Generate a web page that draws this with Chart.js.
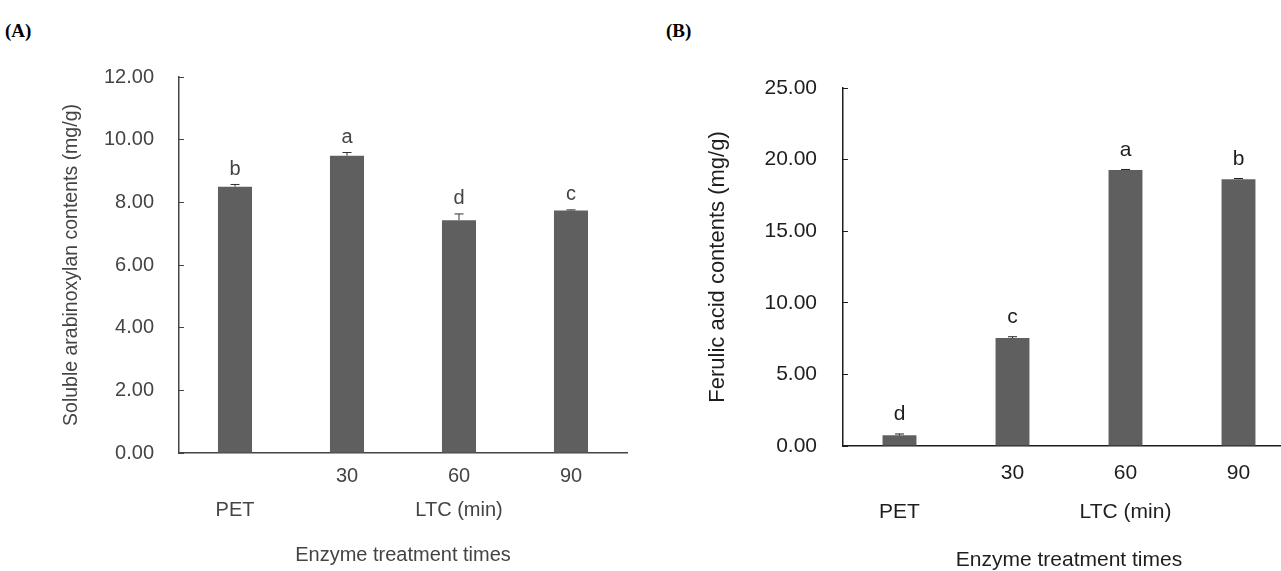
<!DOCTYPE html>
<html>
<head>
<meta charset="utf-8">
<script src="https://cdn.jsdelivr.net/npm/chart.js@4.4.1/dist/chart.umd.min.js"></script>
<style>
  html, body { margin: 0; padding: 0; background: #fff; overflow: hidden; }
  body { width: 1281px; height: 571px; position: relative; }
  canvas { position: absolute; top: 0; }
  #chartA { left: 0; }
  #chartB { left: 640px; }
  .tag { position: absolute; font: bold 19px 'Liberation Serif', 'Times New Roman', serif; line-height: 1; color: #000; }
</style>
</head>
<body>
<div class="tag" style="left:5px; top:21px;">(A)</div>
<div class="tag" style="left:666px; top:21px;">(B)</div>
<canvas id="chartA" width="640" height="571"></canvas>
<canvas id="chartB" width="660" height="571"></canvas>
<script>
'use strict';

// data
let xLabels = [['', 'PET'], ['30', ''], ['60', 'LTC (min)'], ['90', '']];

let arabinoxylan = [8.50, 9.49, 7.43, 7.74];
let arabinoxylanErr = [0.07, 0.10, 0.20, 0.02];
let arabinoxylanLetters = ['b', 'a', 'd', 'c'];

let ferulic = [0.75, 7.54, 19.28, 18.63];
let ferulicErr = [0.09, 0.09, 0.03, 0.05];
let ferulicLetters = ['d', 'c', 'a', 'b'];

let barColor = '#5f5f5f';

Chart.defaults.font.family = "'Liberation Sans', Arial, sans-serif";

// error bars + significance letters above each bar
function marksPlugin(values, errors, letters, style) {
  return {
    id: 'marks',
    afterDatasetsDraw(chart) {
      let ctx = chart.ctx;
      let yScale = chart.scales.y;
      let bars = chart.getDatasetMeta(0).data;
      ctx.save();
      ctx.strokeStyle = style.errColor;
      ctx.lineWidth = 1;
      ctx.fillStyle = style.textColor;
      ctx.font = style.fontSize + "px 'Liberation Sans', Arial, sans-serif";
      ctx.textAlign = 'center';
      ctx.textBaseline = 'middle';
      for (let i = 0; i < bars.length; i++) {
        let x = bars[i].x;
        let top = yScale.getPixelForValue(values[i] + errors[i]);
        ctx.beginPath();
        ctx.moveTo(x, bars[i].y);
        ctx.lineTo(x, top);
        ctx.moveTo(x - 4.5, top);
        ctx.lineTo(x + 4.5, top);
        ctx.stroke();
        ctx.fillText(letters[i], x, top - style.gap);
      }
      ctx.restore();
    }
  };
}

let colorA = '#444444';
let colorB = '#1e1e1e';

new Chart(document.getElementById('chartA'), {
  type: 'bar',
  data: {
    labels: xLabels,
    datasets: [{
      data: arabinoxylan,
      backgroundColor: barColor,
      borderWidth: 0,
      barPercentage: 0.304,
      categoryPercentage: 1
    }]
  },
  options: {
    responsive: false,
    animation: false,
    layout: { padding: { top: 77, right: 13, left: 0, bottom: 0 } },
    plugins: { legend: { display: false }, tooltip: { enabled: false } },
    scales: {
      x: {
        grid: { display: true, drawOnChartArea: false, drawTicks: false },
        border: { color: colorA, width: 1.5 },
        ticks: { color: colorA, font: { size: 20, lineHeight: 1.7 }, padding: 6, autoSkip: false, maxRotation: 0 },
        title: {
          display: true,
          text: 'Enzyme treatment times',
          color: colorA,
          font: { size: 20, lineHeight: 1.2 },
          padding: { top: 0, bottom: 4 }
        },
        afterFit: function (s) { s.height = 118; }
      },
      y: {
        min: 0,
        max: 12,
        ticks: {
          stepSize: 2,
          color: colorA,
          font: { size: 20 },
          padding: 30,
          callback: function (v) { return v.toFixed(2); }
        },
        grid: { drawOnChartArea: false, tickLength: -5, color: colorA },
        border: { color: colorA, width: 1.5 },
        title: {
          display: true,
          text: 'Soluble arabinoxylan contents (mg/g)',
          color: colorA,
          font: { size: 19.5, lineHeight: 1.2 },
          padding: { top: 60, bottom: 0 }
        },
        afterFit: function (s) { s.width = 179; }
      }
    }
  },
  plugins: [marksPlugin(arabinoxylan, arabinoxylanErr, arabinoxylanLetters,
    { errColor: '#333', textColor: colorA, fontSize: 20, gap: 15 })]
});

new Chart(document.getElementById('chartB'), {
  type: 'bar',
  data: {
    labels: xLabels,
    datasets: [{
      data: ferulic,
      backgroundColor: barColor,
      borderWidth: 0,
      barPercentage: 0.30,
      categoryPercentage: 1
    }]
  },
  options: {
    responsive: false,
    animation: false,
    layout: { padding: { top: 88, right: 5, left: 0, bottom: 0 } },
    plugins: { legend: { display: false }, tooltip: { enabled: false } },
    scales: {
      x: {
        grid: { display: true, drawOnChartArea: false, drawTicks: false },
        border: { color: colorB, width: 1.5 },
        ticks: { color: colorB, font: { size: 21, lineHeight: 1.88 }, padding: 7, autoSkip: false, maxRotation: 0 },
        title: {
          display: true,
          text: 'Enzyme treatment times',
          color: colorB,
          font: { size: 21, lineHeight: 1.0 },
          padding: { top: 0, bottom: 0 }
        },
        afterFit: function (s) { s.height = 125; }
      },
      y: {
        min: 0,
        max: 25,
        ticks: {
          stepSize: 5,
          color: colorB,
          font: { size: 21 },
          padding: 31,
          callback: function (v) { return v.toFixed(2); }
        },
        grid: { drawOnChartArea: false, tickLength: -5, color: colorB },
        border: { color: colorB, width: 1.5 },
        title: {
          display: true,
          text: 'Ferulic acid contents (mg/g)',
          color: colorB,
          font: { size: 22, lineHeight: 1.2 },
          padding: { top: 65, bottom: 0 }
        },
        afterFit: function (s) { s.width = 203; }
      }
    }
  },
  plugins: [marksPlugin(ferulic, ferulicErr, ferulicLetters,
    { errColor: '#222', textColor: colorB, fontSize: 21, gap: 19.5 })]
});
</script>
</body>
</html>
